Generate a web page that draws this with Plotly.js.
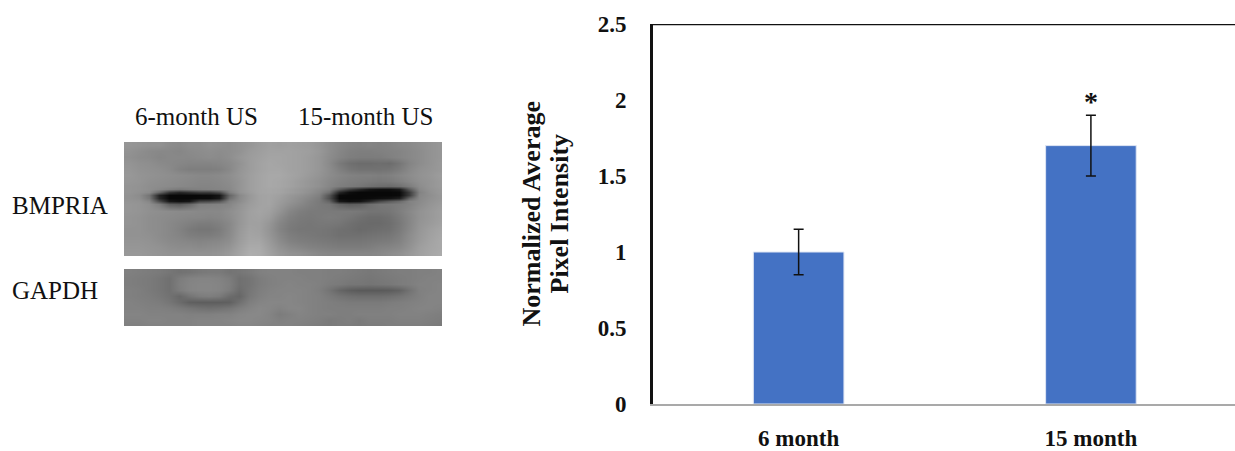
<!DOCTYPE html>
<html><head><meta charset="utf-8">
<script src="https://cdn.plot.ly/plotly-3.0.1.min.js"></script>
<style>html,body{margin:0;padding:0;background:#fff;overflow:hidden}</style>
</head><body><div id="c" style="width:1235px;height:451px"></div>
<script>
const categories = ["6 month", "15 month"];
const values = [1, 1.7];
const errors = [0.15, 0.2];
const yTicks = [0, 0.5, 1, 1.5, 2, 2.5];
const yTickLabels = ["0", "0.5", "1", "1.5", "2", "2.5"];
const yTitleLines = ["Normalized Average", "Pixel Intensity"];
const laneLabels = ["6-month US", "15-month US"];
const blotLabels = ["BMPRIA", "GAPDH"];

// Estimated grey levels of the two blot panels (0 black – 255 white)
const blotTop = [
[150,148,146,146,140,138,142,142,146,144,142,146,150,156,160,158,160,158,156,150,142,136,132,130,132,130,132,136,138,142,146,150],
[146,142,138,136,136,134,138,140,142,140,142,146,154,158,162,162,162,160,158,152,142,134,128,126,126,128,130,132,136,140,146,150],
[144,140,138,134,136,136,136,138,140,138,142,150,156,160,164,164,162,160,156,150,140,132,126,124,124,124,128,132,136,140,146,150],
[148,144,142,138,136,134,132,132,132,134,138,146,156,162,166,164,162,160,156,150,138,122,112,108,108,110,108,118,132,140,146,152],
[150,146,144,142,138,130,126,126,126,128,136,148,156,162,166,166,162,160,156,150,140,128,118,114,114,114,116,124,136,144,148,152],
[152,148,146,144,142,140,138,136,136,138,142,150,158,164,168,168,164,160,154,148,140,134,130,128,128,126,128,134,140,146,150,156],
[150,148,144,142,140,138,136,134,134,136,140,148,158,164,168,166,162,156,150,144,136,130,126,124,122,120,122,128,136,144,148,154],
[148,146,142,140,138,136,134,132,132,134,138,148,158,164,168,166,162,156,150,144,134,126,122,118,112,108,106,112,124,140,148,154],
[148,146,142,136,128,122,126,128,130,132,136,148,158,164,166,164,158,152,146,138,128,92,62,40,22,16,16,26,90,136,146,152],
[148,144,138,104,56,40,50,60,60,76,126,146,156,164,166,164,158,152,144,134,112,40,14,8,8,8,8,10,60,130,144,152],
[146,140,116,36,8,8,8,8,10,20,100,136,152,162,164,160,152,146,138,128,84,10,8,8,8,8,8,10,60,134,142,150],
[146,142,120,40,8,8,8,10,10,24,110,138,152,162,164,158,150,142,134,124,78,8,8,8,10,14,18,30,100,136,144,150],
[148,146,134,76,24,16,22,66,72,86,128,140,154,162,164,156,148,140,130,122,100,24,14,18,40,70,90,106,130,138,146,152],
[150,148,142,126,96,90,104,126,128,130,134,146,156,162,164,154,144,136,128,122,118,100,92,96,110,118,120,124,130,140,148,154],
[150,148,144,142,140,138,138,136,136,136,142,150,160,164,160,148,134,126,122,122,122,122,122,120,116,116,118,126,136,146,152,158],
[148,146,142,140,138,136,134,134,132,134,140,150,160,162,156,140,128,122,120,122,124,122,118,112,108,108,112,122,134,146,152,158],
[148,146,142,140,136,132,128,124,124,128,136,150,160,160,150,134,124,120,118,120,120,118,112,108,106,106,110,120,134,148,154,160],
[146,146,142,140,136,130,122,118,118,124,136,152,162,160,148,132,122,118,118,118,116,112,110,106,108,110,112,122,136,150,158,164],
[146,146,144,140,136,132,126,124,124,128,138,154,164,162,150,136,126,122,120,118,116,112,112,112,114,116,118,126,140,152,160,166],
[148,148,146,142,138,136,134,132,134,136,142,156,166,166,154,140,130,126,124,122,120,118,118,118,120,122,124,130,142,154,162,168],
[150,150,148,146,142,140,140,138,140,142,148,160,170,170,158,146,138,134,130,128,126,124,124,124,126,130,132,136,146,158,164,168],
[152,152,150,148,146,146,146,146,146,148,154,164,174,172,162,152,146,144,140,136,134,134,134,134,134,136,140,144,152,160,166,170]
];
const blotBottom = [
[128,126,124,122,118,114,116,120,122,122,116,118,122,128,130,130,130,128,128,128,126,126,124,122,120,122,124,126,126,128,128,130],
[126,124,122,118,112,124,130,132,132,130,124,112,116,124,128,130,130,130,128,128,126,124,122,120,118,120,122,124,126,128,130,130],
[126,124,122,118,112,126,132,134,134,132,126,112,116,124,128,130,132,130,130,128,124,122,118,118,116,118,120,124,126,130,130,132],
[128,126,122,118,112,124,132,134,134,132,124,108,118,126,130,132,132,132,130,126,116,102,94,90,90,90,92,98,114,128,130,132],
[128,126,124,120,114,104,116,124,126,122,108,102,120,128,132,132,134,132,130,128,122,116,112,110,110,110,112,116,122,128,132,132],
[130,128,126,124,118,108,96,94,94,94,96,112,126,132,134,134,134,132,130,128,126,124,122,122,122,122,124,126,128,130,132,132],
[130,130,128,128,126,122,118,114,112,114,118,126,132,136,134,130,134,134,130,128,126,126,126,126,126,126,128,128,130,132,132,130],
[132,132,130,130,130,130,128,128,128,130,130,134,136,136,132,124,128,132,130,128,128,126,126,128,128,128,128,130,130,130,128,126],
[130,130,132,132,130,130,130,132,132,132,134,136,136,134,132,128,130,130,128,126,122,124,126,122,126,126,126,128,128,128,126,124],
[128,128,130,130,130,130,130,132,132,132,132,134,134,132,130,130,130,128,126,124,122,124,124,122,124,124,126,126,126,126,124,122]
];
const cols = [129,139,149,159,169,179,189,199,209,219,229,239,249,259,269,279,289,299,309,319,329,339,349,359,369,379,389,399,409,419,429,439];
const rowsTop = [145,151,157,163,169,175,181,186,189,192,195,198,201,204,211,217,223,229,235,241,247,253];
const rowsBottom = [272,278,284,290,296,302,308,314,320,325];

const W = 1235, H = 451;
const px = v => v / W;
const py = v => 1 - v / H;
const greys = [[0,"rgb(0,0,0)"],[1,"rgb(255,255,255)"]];
const serif = "Liberation Serif, serif";

const traces = [
  {type:"bar", x:categories, y:values, width:0.31, marker:{color:"#4472C4", line:{color:"#dfe6f4", width:1}},
   error_y:{type:"data", array:errors, visible:true, color:"#111", thickness:1.5, width:5}, hoverinfo:"skip"},
  {type:"heatmap", x:cols, y:rowsTop, z:blotTop, xaxis:"x2", yaxis:"y2", zmin:0, zmax:255,
   colorscale:greys, showscale:false, zsmooth:"best", hoverinfo:"skip"},
  {type:"heatmap", x:cols, y:rowsBottom, z:blotBottom, xaxis:"x3", yaxis:"y3", zmin:0, zmax:255,
   colorscale:greys, showscale:false, zsmooth:"best", hoverinfo:"skip"}
];
const hidden = {visible:false, showgrid:false, zeroline:false, fixedrange:true};
const boldTitle = {family:serif, size:26, color:"#111", weight:700};
const laneFont = {family:serif, size:25, color:"#111"};
const sideFont = {family:serif, size:25, color:"#111"};
const layout = {
  width:W, height:H, autosize:false, showlegend:false,
  margin:{l:0,r:0,t:0,b:0,pad:0}, paper_bgcolor:"#fff", plot_bgcolor:"#fff",
  font:{family:serif, color:"#111"},
  xaxis:{domain:[px(652.5),1], range:[-0.5,1.493], type:"category", showline:true, linecolor:"#a9a9a9", linewidth:2,
    ticks:"outside", ticklen:12, tickcolor:"rgba(0,0,0,0)", showgrid:false, zeroline:false, automargin:false,
    tickfont:{family:serif, size:23, color:"#111", weight:700}},
  yaxis:{domain:[py(404),py(24)], range:[0,2.5], tickvals:yTicks, ticktext:yTickLabels,
    showline:true, linecolor:"#111", linewidth:2.5, ticks:"outside", ticklen:19, tickcolor:"rgba(0,0,0,0)",
    showgrid:false, zeroline:false, tickfont:{family:serif, size:23, color:"#111", weight:700}},
  xaxis2:{...hidden, domain:[px(124),px(442)], range:[124,442], anchor:"y2"},
  yaxis2:{...hidden, domain:[py(256),py(142)], range:[256,142], anchor:"x2"},
  xaxis3:{...hidden, domain:[px(124),px(442)], range:[124,442], anchor:"y3"},
  yaxis3:{...hidden, domain:[py(326),py(269)], range:[326,269], anchor:"x3"},
  shapes:[{type:"line", xref:"paper", x0:px(651.5), x1:1, yref:"y", y0:2.5, y1:2.5, line:{color:"#111", width:2.5}}],
  annotations:[
    {text:"*", x:1, y:1.99, xref:"x", yref:"y", showarrow:false, font:{family:serif, size:28, color:"#111", weight:700}},
    {text:yTitleLines[0], x:px(531), xanchor:"center", yanchor:"middle", y:py(213.5), xref:"paper", yref:"paper", textangle:-90, showarrow:false, font:boldTitle},
    {text:yTitleLines[1], x:px(559), xanchor:"center", yanchor:"middle", y:py(213.5), xref:"paper", yref:"paper", textangle:-90, showarrow:false, font:boldTitle},
    {text:laneLabels[0], x:px(196.5), xanchor:"center", yanchor:"middle", y:py(117), xref:"paper", yref:"paper", showarrow:false, font:laneFont},
    {text:laneLabels[1], x:px(365.5), xanchor:"center", yanchor:"middle", y:py(117), xref:"paper", yref:"paper", showarrow:false, font:laneFont},
    {text:blotLabels[0], x:px(10), xanchor:"left", yanchor:"middle", y:py(205), xref:"paper", yref:"paper", showarrow:false, font:sideFont},
    {text:blotLabels[1], x:px(10), xanchor:"left", yanchor:"middle", y:py(290), xref:"paper", yref:"paper", showarrow:false, font:sideFont}
  ]
};
Plotly.newPlot("c", traces, layout, {staticPlot:true, displayModeBar:false});
</script></body></html>
